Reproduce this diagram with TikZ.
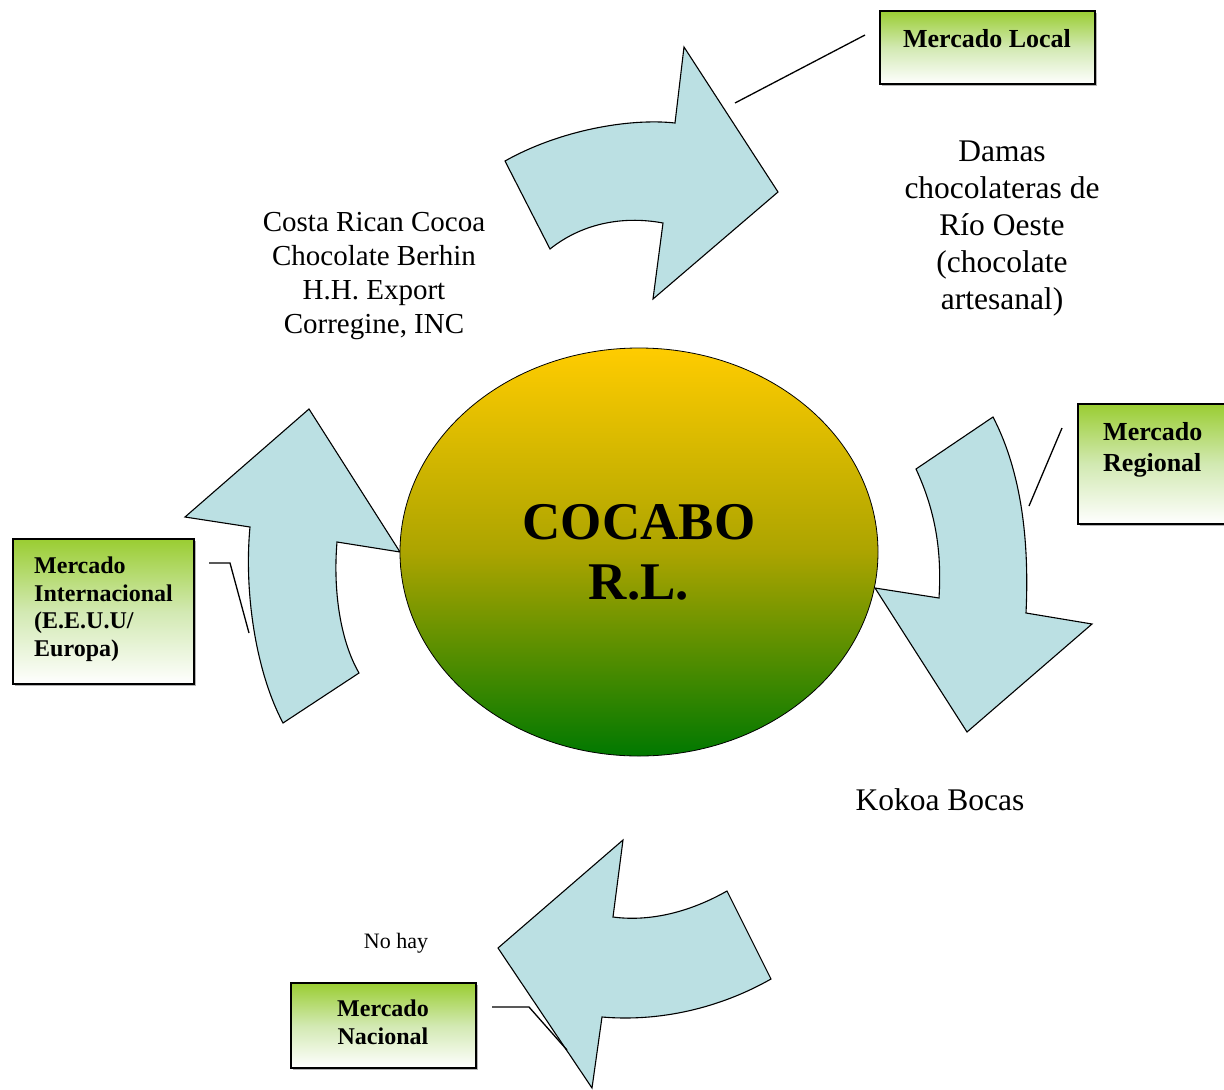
\documentclass[tikz,border=0pt]{standalone}
\usepackage{fontspec}
\setmainfont{Liberation Serif}
\usetikzlibrary{shapes.geometric,shadows}
\definecolor{arrowfill}{RGB}{187,224,227}
\definecolor{boxgreen}{RGB}{154,205,50}
\definecolor{boxmid}{RGB}{210,233,178}
\definecolor{ellTop}{RGB}{255,204,0}
\definecolor{ellMid}{RGB}{172,164,0}
\definecolor{ellBot}{RGB}{0,120,0}
\begin{document}
\begin{tikzpicture}[x=1pt,y=-1pt,
  bigarrow/.style={fill=arrowfill,draw=black,line width=1.1pt,line join=miter},
  mbox/.style={draw=black,line width=1.4pt,top color=boxgreen,bottom color=white,
    middle color=boxmid,inner sep=0pt,
    drop shadow={shadow xshift=1.6pt,shadow yshift=-1.6pt,fill=black!50,opacity=0.6}},
  boxtext/.style={font=\bfseries\fontsize{24}{27.5}\selectfont,inner sep=0pt},
  plaintext/.style={inner sep=0pt,align=center},
  callout/.style={draw=black,line width=1.3pt}]
\useasboundingbox (0,0) rectangle (1224,1090);

% ---- curved arrows ----
% top
\draw[bigarrow] (505,161) .. controls (560,130) and (630,118) .. (675,123)
  -- (684,47) -- (778,192) -- (653,299) -- (663,223)
  .. controls (620,215) and (580,225) .. (550,249) -- cycle;
% right
\draw[bigarrow] (993,417) .. controls (1018,465) and (1030,530) .. (1026,613)
  -- (1092,624) -- (967,732) -- (875,588) -- (939,598)
  .. controls (942,550) and (935,510) .. (916,469) -- cycle;
% left
\draw[bigarrow] (309,409) -- (400,552) -- (337,542)
  .. controls (333,590) and (340,640) .. (359,673) -- (283,723)
  .. controls (255,670) and (244,590) .. (250,527) -- (185,517) -- cycle;
% bottom
\draw[bigarrow] (623,840) -- (613,917)
  .. controls (650,922) and (690,912) .. (727,891) -- (771,979)
  .. controls (720,1008) and (660,1022) .. (602,1017)
  -- (592,1088) -- (498,948) -- cycle;

% ---- central ellipse ----
\node[ellipse,draw=black,line width=0.8pt,minimum width=478pt,minimum height=408pt,
  inner sep=0pt,top color=ellTop,bottom color=ellBot,middle color=ellMid,
  align=center,font=\bfseries\fontsize{53}{60}\selectfont] (cocabo) at (639,552)
  {COCABO\\R.L.};

% ---- boxes ----
\node[mbox,minimum width=215pt,minimum height=73pt] (local) at (987.5,47.5) {};
\node[boxtext,font=\bfseries\fontsize{26}{31}\selectfont] (localtxt) at (987,39) {Mercado Local};

\node[mbox,minimum width=170pt,minimum height=120pt] (regional) at (1163,464) {};
\node[boxtext,font=\bfseries\fontsize{26}{31}\selectfont,align=left,anchor=west]
  (regionaltxt) at (1103,450) {Mercado\\Regional};

\node[mbox,minimum width=181pt,minimum height=145pt] (inter) at (103.5,611.5) {};
\node[boxtext,align=left,anchor=west] (intertxt) at (34,609)
  {Mercado\\Internacional\\(E.E.U.U/\\Europa)};

\node[mbox,minimum width=185pt,minimum height=85pt] (nacional) at (383.5,1025.5) {};
\node[boxtext,align=center,font=\bfseries\fontsize{24}{28}\selectfont] (nacionaltxt) at (383,1022)
  {Mercado\\Nacional};

% ---- plain texts ----
\node[plaintext,font=\fontsize{29}{34}\selectfont] (exporters) at (374,276)
  {Costa Rican Cocoa\\Chocolate Berhin\\H.H. Export\\Corregine, INC};
\node[plaintext,font=\fontsize{31.5}{37}\selectfont] (damas) at (1002,229)
  {Damas\\chocolateras de\\Río Oeste\\(chocolate\\artesanal)};
\node[plaintext,font=\fontsize{31.5}{37}\selectfont] (kokoa) at (940,800) {Kokoa Bocas};
\node[plaintext,font=\fontsize{22}{26}\selectfont] (nohay) at (396,943) {No hay};

% ---- callout lines ----
\coordinate (lA) at (865,35);   \coordinate (lB) at (735,103);
\coordinate (rA) at (1062,428); \coordinate (rB) at (1029,506);
\coordinate (iA) at (209,563);  \coordinate (iB) at (230,563); \coordinate (iC) at (249,633);
\coordinate (nA) at (492,1007); \coordinate (nB) at (529,1007); \coordinate (nC) at (567,1050);
\draw[callout] (lA) -- (lB);
\draw[callout] (rA) -- (rB);
\draw[callout] (iA) -- (iB) -- (iC);
\draw[callout] (nA) -- (nB) -- (nC);
\end{tikzpicture}
\end{document}
